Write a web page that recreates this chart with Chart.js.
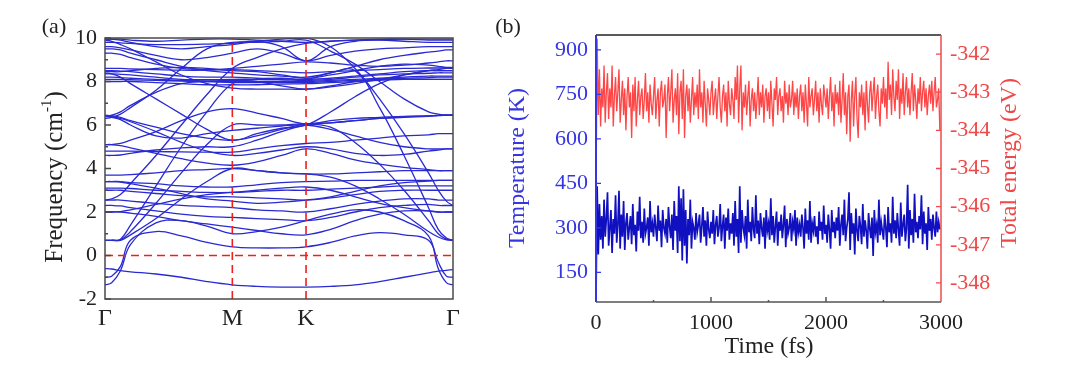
<!DOCTYPE html>
<html>
<head>
<meta charset="utf-8">
<script src="https://cdn.jsdelivr.net/npm/chart.js@4.4.1/dist/chart.umd.min.js"></script>
<style>
  body { margin: 0; background: #fff; }
  #wrap { position: relative; width: 1068px; height: 385px; }
  canvas { position: absolute; top: 0; }
  #bandChart { left: 0; }
  #mdChart { left: 480px; }
</style>
</head>
<body>
<div id="wrap">
  <canvas id="bandChart" width="480" height="385"></canvas>
  <canvas id="mdChart" width="588" height="385"></canvas>
</div>
<script>
// ---- panel (a): phonon bands along Γ-M-K-Γ ----
const kPath = [0, 0.03, 0.07, 0.1155, 0.231, 0.346, 0.462, 0.577, 0.688, 0.8, 0.911,
               1.022, 1.133, 1.244, 1.355, 1.466, 1.51, 1.547, 1.577];
const symTicks = [0, 0.577, 0.911, 1.577];
const symLabels = ['Γ', 'M', 'K', 'Γ'];
const freqTicks = [-2, 0, 2, 4, 6, 8, 10];

// frequency (cm-1) of each band at the kPath points
const bands = [
  [-0.6,-0.62,-0.7,-0.75,-0.85,-1.0,-1.2,-1.35,-1.42,-1.45,-1.45,-1.42,-1.35,-1.2,-1.0,-0.8,-0.72,-0.68,-0.65],
  [-1.0,-0.95,-0.5,0.7,1.1,0.9,0.6,0.4,0.35,0.35,0.4,0.6,0.9,1.05,0.95,0.7,-0.3,-0.95,-1.0],
  [-1.35,-1.25,-0.7,0.5,1.5,1.6,1.35,1.0,1.1,1.3,1.6,1.9,2.1,2.0,1.6,0.9,-0.6,-1.25,-1.35],
  [0.7,0.7,0.75,1.4,3.2,5.0,6.6,7.9,8.1,8.15,8.1,8.4,8.5,6.8,4.6,2.2,1.2,0.8,0.7],
  [0.7,0.7,0.72,1.1,2.4,3.8,5.1,6.0,6.0,6.0,6.05,5.9,5.2,4.2,3.0,1.6,1.0,0.75,0.7],
  [0.7,0.7,0.7,0.95,1.7,2.6,3.4,4.0,3.9,3.8,3.75,3.6,3.2,2.6,1.9,1.1,0.85,0.72,0.7],
  [2.0,2.0,2.0,1.95,1.8,1.6,1.45,1.3,1.15,1.0,0.95,1.2,1.6,1.9,2.05,2.05,2.0,2.0,2.0],
  [2.3,2.3,2.28,2.2,2.05,1.9,1.8,1.75,1.7,1.65,1.6,1.75,2.0,2.2,2.3,2.35,2.3,2.3,2.3],
  [2.55,2.55,2.55,2.5,2.4,2.3,2.25,2.2,2.1,2.05,2.0,2.15,2.35,2.5,2.6,2.6,2.55,2.55,2.55],
  [3.0,3.0,3.0,2.95,2.85,2.75,2.7,2.7,2.65,2.6,2.55,2.65,2.8,2.95,3.0,3.0,3.0,3.0,3.0],
  [3.1,3.1,3.1,3.08,3.0,2.95,2.9,2.9,2.95,3.0,3.0,3.05,3.1,3.15,3.2,3.2,3.2,3.2,3.2],
  [3.4,3.4,3.4,3.35,3.3,3.2,3.15,3.15,3.25,3.35,3.4,3.42,3.45,3.45,3.45,3.45,3.45,3.45,3.45],
  [3.7,3.7,3.7,3.72,3.8,3.9,3.95,4.0,3.9,3.8,3.75,3.75,3.8,3.85,3.9,3.9,3.9,3.9,3.9],
  [2.0,2.0,2.02,2.1,2.35,2.6,2.8,2.9,3.0,3.1,3.15,3.0,2.7,2.4,2.2,2.05,2.0,2.0,2.0],
  [3.4,3.4,3.38,3.3,3.1,2.85,2.6,2.5,2.4,2.45,2.55,2.7,2.95,3.2,3.35,3.42,3.45,3.45,3.45],
  [6.4,6.38,6.3,6.15,5.7,5.2,4.8,4.6,4.7,4.85,5.0,4.9,4.7,4.6,4.65,4.8,4.85,4.9,4.9],
  [6.45,6.43,6.35,6.2,5.9,5.6,5.4,5.3,5.5,5.8,6.05,6.1,6.2,6.3,6.38,6.42,6.44,6.45,6.45],
  [5.1,5.1,5.15,5.3,5.7,6.2,6.6,6.75,6.55,6.3,6.05,6.2,6.3,6.35,6.4,6.42,6.44,6.45,6.45],
  [4.6,4.6,4.62,4.7,4.85,4.95,5.0,5.0,5.3,5.7,6.0,6.1,6.2,6.3,6.35,6.4,6.43,6.45,6.45],
  [4.8,4.8,4.8,4.8,4.78,4.76,4.75,4.75,4.9,5.05,5.15,5.2,5.3,5.4,5.5,5.55,5.6,5.6,5.6],
  [6.4,6.35,6.25,6.0,5.5,5.4,5.6,5.75,5.85,5.95,6.0,5.8,5.5,5.2,5.0,4.9,4.9,4.9,4.9],
  [6.4,6.45,6.6,6.9,7.5,7.9,8.0,8.05,8.0,7.8,7.65,7.8,8.0,8.1,8.1,8.1,8.1,8.1,8.1],
  [5.1,5.1,5.05,4.95,4.7,4.45,4.25,4.15,4.3,4.6,4.9,4.7,4.4,4.2,4.05,3.95,3.9,3.9,3.9],
  [9.9,9.85,9.7,9.5,8.9,8.3,7.9,7.7,7.65,7.65,7.65,7.75,7.9,8.1,8.3,8.5,8.55,8.6,8.6],
  [8.4,8.35,8.2,7.9,7.2,6.5,5.8,5.3,5.6,5.85,6.0,6.6,7.3,7.9,8.3,8.5,8.5,8.5,8.5],
  [6.3,6.35,6.5,6.8,7.6,8.6,9.5,9.8,9.8,9.85,9.9,9.4,8.8,8.0,7.2,6.6,6.5,6.45,6.45],
  [9.8,9.8,9.78,9.75,9.7,9.7,9.72,9.75,9.85,9.6,8.95,9.6,9.85,9.9,9.85,9.8,9.8,9.8,9.8],
  [9.6,9.6,9.55,9.45,9.2,9.0,9.1,9.3,9.5,9.3,8.95,9.2,9.4,9.5,9.55,9.6,9.6,9.6,9.6],
  [9.95,9.95,9.95,9.9,9.85,9.9,9.95,9.95,9.9,9.85,9.8,9.85,9.9,9.95,9.95,9.9,9.9,9.9,9.9],
  [9.95,9.95,9.9,9.8,9.6,9.5,9.6,9.7,9.85,9.95,10.0,9.6,8.6,7.2,5.6,3.8,3.0,2.5,2.3],
  [2.55,2.6,2.8,3.3,4.6,6.0,7.4,8.6,9.1,9.5,9.75,9.85,9.9,9.92,9.95,9.95,9.95,9.95,9.95],
  [8.6,8.6,8.6,8.58,8.55,8.52,8.52,8.55,8.5,8.45,8.4,8.45,8.5,8.55,8.6,8.62,8.62,8.62,8.62],
  [8.5,8.5,8.48,8.45,8.35,8.25,8.2,8.2,8.15,8.12,8.1,8.15,8.25,8.35,8.45,8.5,8.5,8.5,8.5],
  [8.35,8.35,8.33,8.3,8.2,8.1,8.08,8.1,8.1,8.08,8.05,8.1,8.2,8.3,8.35,8.38,8.4,8.4,8.4],
  [8.2,8.2,8.18,8.15,8.1,8.05,8.02,8.0,8.0,8.0,8.0,8.05,8.1,8.15,8.2,8.25,8.25,8.25,8.25],
  [8.1,8.1,8.1,8.08,8.05,8.02,8.0,7.95,7.95,7.95,7.95,8.0,8.05,8.1,8.15,8.18,8.2,8.2,8.2],
  [8.0,8.0,8.0,8.0,7.95,7.9,7.85,7.85,7.85,7.88,7.9,7.95,8.0,8.05,8.1,8.1,8.1,8.1,8.1],
  [8.45,8.45,8.45,8.5,8.6,8.65,8.6,8.5,8.45,8.3,8.15,8.3,8.5,8.7,8.8,8.75,8.7,8.65,8.65],
  [9.3,9.3,9.25,9.1,8.8,8.6,8.55,8.6,8.7,8.8,8.9,8.85,8.75,8.7,8.75,8.85,8.9,8.95,8.95],
  [9.5,9.5,9.45,9.3,9.0,8.7,8.5,8.4,8.3,8.25,8.2,8.4,8.7,9.0,9.2,9.35,9.4,9.45,9.45]
];

// ---- panel (b): MD run, one sample every 10 fs ----
const tempTicks = [150, 300, 450, 600, 750, 900];
const energyTicks = [-348, -347, -346, -345, -344, -343, -342];
const timeTicks = [0, 1000, 2000, 3000];

const temperatureK = [
  55,440,210,380,260,340,230,395,270,330,
  420,240,300,360,215,330,280,410,250,310,
  425,230,345,270,390,225,315,350,260,300,
  340,245,380,275,310,220,355,290,405,265,
  320,250,365,280,300,335,240,390,285,315,
  270,345,300,255,375,290,325,235,360,300,
  280,330,250,370,305,265,345,225,390,290,
  340,215,440,255,400,190,430,240,360,180,
  330,275,395,230,320,300,260,350,285,310,
  345,250,305,370,270,325,240,355,295,265,
  320,280,360,245,310,340,270,300,380,255,
  305,345,230,335,290,365,260,315,280,350,
  240,390,270,330,215,440,250,360,300,275,
  340,230,395,285,320,255,370,295,265,410,
  280,325,245,350,300,270,335,230,360,290,
  315,260,400,275,340,250,305,355,240,320,
  290,345,265,310,375,235,330,280,300,350,
  255,320,295,360,240,335,285,310,270,345,
  300,230,365,280,325,260,390,250,315,290,
  340,270,305,245,355,290,320,260,375,280,
  310,250,345,295,230,360,285,320,265,335,
  290,370,240,310,345,275,395,255,300,330,
  420,225,350,280,315,210,365,290,255,340,
  305,245,380,270,325,290,230,350,300,265,
  335,205,360,285,310,250,395,275,320,290,
  260,345,300,235,370,285,315,250,405,280,
  325,265,350,295,240,385,270,310,345,255,
  300,445,230,360,275,330,250,415,285,320,
  265,340,295,410,245,355,280,315,225,370,
  290,330,260,345,300,270,355,285,320,295
];

const energyEv = [
  -345.9,-341.6,-343.6,-342.4,-343.9,-342.9,-343.4,-342.3,-343.8,-343.0,
  -342.5,-343.7,-342.9,-343.4,-342.3,-343.9,-343.1,-342.6,-343.5,-343.0,
  -342.4,-343.8,-343.2,-342.7,-343.6,-342.9,-344.0,-343.1,-342.6,-343.4,
  -343.0,-344.2,-342.8,-343.5,-342.6,-343.9,-343.2,-342.7,-343.6,-343.1,
  -342.9,-343.7,-343.2,-342.5,-343.5,-343.0,-343.8,-342.8,-343.3,-343.6,
  -343.1,-342.6,-343.7,-343.2,-342.9,-343.9,-343.0,-342.7,-343.4,-343.2,
  -342.8,-344.2,-343.1,-342.6,-343.5,-343.0,-342.4,-343.8,-343.2,-342.9,
  -343.6,-342.5,-344.1,-343.0,-342.7,-343.7,-342.4,-344.2,-343.1,-342.8,
  -343.5,-342.9,-343.8,-343.2,-342.6,-343.6,-343.0,-343.4,-342.8,-343.7,
  -342.4,-343.4,-343.0,-343.8,-342.7,-343.3,-343.9,-342.9,-343.2,-343.6,
  -343.0,-342.7,-343.6,-343.2,-342.9,-343.7,-343.1,-342.6,-343.4,-343.8,
  -343.1,-342.8,-343.5,-343.0,-343.9,-342.7,-343.3,-343.6,-342.9,-343.2,
  -343.7,-342.6,-343.2,-342.3,-343.8,-342.9,-342.3,-344.0,-343.0,-343.4,
  -342.8,-343.6,-343.1,-342.7,-343.9,-343.2,-342.9,-343.5,-343.0,-343.7,
  -343.2,-342.6,-343.6,-343.0,-343.4,-342.8,-343.8,-343.1,-342.9,-343.5,
  -343.0,-343.7,-342.7,-343.3,-343.9,-342.9,-343.2,-342.6,-343.6,-343.1,
  -342.9,-343.5,-343.1,-343.8,-342.7,-343.3,-343.0,-343.6,-342.8,-343.4,
  -343.2,-342.7,-343.6,-343.0,-343.4,-342.9,-343.7,-343.1,-342.8,-343.5,
  -343.0,-343.8,-342.8,-343.3,-343.9,-342.6,-343.4,-343.1,-342.9,-343.6,
  -343.2,-342.7,-343.5,-343.0,-343.8,-342.9,-343.3,-343.6,-342.8,-343.1,
  -343.4,-342.9,-343.7,-343.1,-342.6,-343.5,-343.0,-343.9,-342.8,-343.3,
  -343.0,-343.6,-342.7,-343.8,-343.2,-342.5,-343.6,-343.0,-344.1,-343.1,
  -342.8,-344.3,-343.2,-342.7,-343.9,-343.1,-342.6,-343.7,-344.2,-343.0,
  -343.4,-342.8,-343.6,-343.0,-344.0,-342.7,-343.3,-343.8,-343.0,-342.7,
  -343.5,-343.0,-342.6,-343.7,-343.1,-342.8,-343.5,-343.9,-342.9,-343.3,
  -342.6,-343.4,-342.9,-343.7,-342.2,-343.2,-342.8,-343.6,-342.4,-343.1,
  -343.5,-342.7,-343.2,-342.4,-343.7,-342.9,-343.3,-342.5,-343.6,-343.0,
  -342.6,-343.4,-342.9,-343.6,-343.0,-342.5,-343.5,-342.8,-343.2,-343.7,
  -342.9,-343.3,-342.6,-343.5,-343.0,-342.7,-343.4,-342.9,-343.6,-343.1,
  -342.8,-343.3,-342.7,-343.5,-343.0,-342.6,-343.4,-343.2,-342.9,-344.0
];
const timeFs = temperatureK.map((_, i) => i * 10);

const serif = '"Liberation Serif", "Times New Roman", serif';
Chart.defaults.font.family = serif;

const bandBlue = '#2a2ad2';
const dashRed = '#f01e1e';
const tempBlue = '#1010c0';
const energyRed = '#ff4646';
const labelBlue = '#3535e2';
const labelRed = '#f04848';

// draws rotated text made of pieces (for the superscript in cm-1)
function verticalText(ctx, pieces, cx, cy, color) {
  ctx.save();
  ctx.translate(cx, cy);
  ctx.rotate(-Math.PI / 2);
  ctx.fillStyle = color;
  ctx.textBaseline = 'middle';
  ctx.textAlign = 'left';
  let total = 0;
  pieces.forEach(p => { ctx.font = p.size + 'px ' + serif; p.w = ctx.measureText(p.text).width; total += p.w; });
  let x = -total / 2;
  pieces.forEach(p => {
    ctx.font = p.size + 'px ' + serif;
    ctx.fillText(p.text, x, -(p.rise || 0));
    x += p.w;
  });
  ctx.restore();
}

function plainText(ctx, text, x, y, size, color) {
  ctx.save();
  ctx.font = size + 'px ' + serif;
  ctx.fillStyle = color;
  ctx.textAlign = 'center';
  ctx.textBaseline = 'middle';
  ctx.fillText(text, x, y);
  ctx.restore();
}

const bandDecor = {
  id: 'bandDecor',
  afterDraw(chart) {
    const { ctx, chartArea: a, scales } = chart;
    ctx.save();
    ctx.strokeStyle = '#4a4a4a';
    ctx.lineWidth = 1.5;
    ctx.strokeRect(a.left, a.top, a.right - a.left, a.bottom - a.top);
    ctx.beginPath();
    for (let v = -2; v <= 10; v++) {
      const y = scales.y.getPixelForValue(v);
      const len = v % 2 === 0 ? 6 : 3;
      ctx.moveTo(a.left, y);
      ctx.lineTo(a.left + len, y);
    }
    ctx.stroke();
    ctx.restore();
    verticalText(ctx, [
      { text: 'Frequency (cm', size: 25 },
      { text: '-1', size: 15, rise: 8 },
      { text: ')', size: 25 }
    ], 55, 177, '#222');
    plainText(ctx, '(a)', 54, 27, 22, '#222');
  }
};

const guide = { borderColor: dashRed, borderWidth: 1.6, borderDash: [8, 5], pointRadius: 0, tension: 0 };

new Chart(document.getElementById('bandChart'), {
  type: 'line',
  data: {
    datasets: [
      { ...guide, data: [{ x: symTicks[1], y: -2 }, { x: symTicks[1], y: 10 }] },
      { ...guide, data: [{ x: symTicks[2], y: -2 }, { x: symTicks[2], y: 10 }] },
      { ...guide, data: [{ x: symTicks[0], y: 0 }, { x: symTicks[3], y: 0 }] },
      ...bands.map(b => ({
        data: b.map((f, i) => ({ x: kPath[i], y: f })),
        borderColor: bandBlue,
        borderWidth: 1.3,
        pointRadius: 0,
        tension: 0.4,
        fill: false
      }))
    ]
  },
  options: {
    responsive: false,
    animation: false,
    events: [],
    layout: { padding: { top: 38, right: 27, left: 0, bottom: 0 } },
    plugins: { legend: { display: false }, tooltip: { enabled: false } },
    scales: {
      x: {
        type: 'linear', min: 0, max: symTicks[3],
        afterBuildTicks: s => { s.ticks = symTicks.map(v => ({ value: v })); },
        afterFit: s => { s.height = 86; },
        ticks: { autoSkip: false, maxRotation: 0, padding: 5, color: '#222', font: { size: 24 },
                 callback: (v, i) => symLabels[i] },
        grid: { display: false, drawTicks: false },
        border: { display: false }
      },
      y: {
        min: -2, max: 10,
        afterBuildTicks: s => { s.ticks = freqTicks.map(v => ({ value: v })); },
        afterFit: s => { s.width = 105; },
        ticks: { padding: 8, color: '#222', font: { size: 22 }, callback: v => String(v) },
        grid: { display: false, drawTicks: false },
        border: { display: false }
      }
    }
  },
  plugins: [bandDecor]
});

const mdDecor = {
  id: 'mdDecor',
  afterDraw(chart) {
    const { ctx, chartArea: a, scales } = chart;
    ctx.save();
    ctx.lineWidth = 1.5;
    ctx.strokeStyle = '#222';
    ctx.beginPath(); ctx.moveTo(a.left, a.top); ctx.lineTo(a.right, a.top); ctx.stroke();
    ctx.strokeStyle = '#555';
    ctx.beginPath(); ctx.moveTo(a.left, a.bottom); ctx.lineTo(a.right, a.bottom); ctx.stroke();
    // x ticks, major and minor, pointing inward
    ctx.beginPath();
    [500, 1000, 1500, 2000, 2500].forEach(t => {
      const x = scales.x.getPixelForValue(t);
      ctx.moveTo(x, a.bottom); ctx.lineTo(x, a.bottom - (t % 1000 === 0 ? 5 : 2));
    });
    ctx.stroke();
    ctx.strokeStyle = labelBlue;
    ctx.lineWidth = 2;
    ctx.beginPath(); ctx.moveTo(a.left, a.top); ctx.lineTo(a.left, a.bottom); ctx.stroke();
    ctx.lineWidth = 1.3;
    ctx.beginPath();
    tempTicks.forEach(v => {
      const y = scales.y.getPixelForValue(v);
      ctx.moveTo(a.left, y); ctx.lineTo(a.left + 5, y);
    });
    ctx.stroke();
    ctx.strokeStyle = labelRed;
    ctx.lineWidth = 1.5;
    ctx.beginPath(); ctx.moveTo(a.right, a.top); ctx.lineTo(a.right, a.bottom); ctx.stroke();
    ctx.lineWidth = 1.3;
    ctx.beginPath();
    energyTicks.forEach(v => {
      const y = scales.y1.getPixelForValue(v);
      ctx.moveTo(a.right, y); ctx.lineTo(a.right - 5, y);
    });
    ctx.stroke();
    ctx.restore();
    verticalText(ctx, [{ text: 'Temperature (K)', size: 24 }], 38, 168, labelBlue);
    verticalText(ctx, [{ text: 'Total energy (eV)', size: 24 }], 530, 163, labelRed);
    plainText(ctx, 'Time (fs)', 289, 347, 24, '#222');
    plainText(ctx, '(b)', 28, 27, 22, '#222');
  }
};

new Chart(document.getElementById('mdChart'), {
  type: 'line',
  data: {
    datasets: [
      {
        data: temperatureK.map((v, i) => ({ x: timeFs[i], y: v })),
        yAxisID: 'y', borderColor: tempBlue, borderWidth: 1.7, pointRadius: 0, tension: 0
      },
      {
        data: energyEv.map((v, i) => ({ x: timeFs[i], y: v })),
        yAxisID: 'y1', borderColor: energyRed, borderWidth: 1.3, pointRadius: 0, tension: 0
      }
    ]
  },
  options: {
    responsive: false,
    animation: false,
    events: [],
    layout: { padding: { top: 35, right: 0, left: 0, bottom: 0 } },
    plugins: { legend: { display: false }, tooltip: { enabled: false } },
    scales: {
      x: {
        type: 'linear', min: 0, max: 3000,
        afterBuildTicks: s => { s.ticks = timeTicks.map(v => ({ value: v })); },
        afterFit: s => { s.height = 83; },
        ticks: { autoSkip: false, maxRotation: 0, padding: 8, color: '#222', font: { size: 22 },
                 callback: v => String(v) },
        grid: { display: false, drawTicks: false },
        border: { display: false }
      },
      y: {
        position: 'left', min: 50, max: 950,
        afterBuildTicks: s => { s.ticks = tempTicks.map(v => ({ value: v })); },
        afterFit: s => { s.width = 116; },
        ticks: { padding: 8, color: labelBlue, font: { size: 22 }, callback: v => String(v) },
        grid: { display: false, drawTicks: false },
        border: { display: false }
      },
      y1: {
        position: 'right', min: -348.5, max: -341.5,
        afterBuildTicks: s => { s.ticks = energyTicks.map(v => ({ value: v })); },
        afterFit: s => { s.width = 127; },
        ticks: { padding: 9, color: labelRed, font: { size: 22 }, callback: v => String(v) },
        grid: { display: false, drawTicks: false },
        border: { display: false }
      }
    }
  },
  plugins: [mdDecor]
});
</script>
</body>
</html>
